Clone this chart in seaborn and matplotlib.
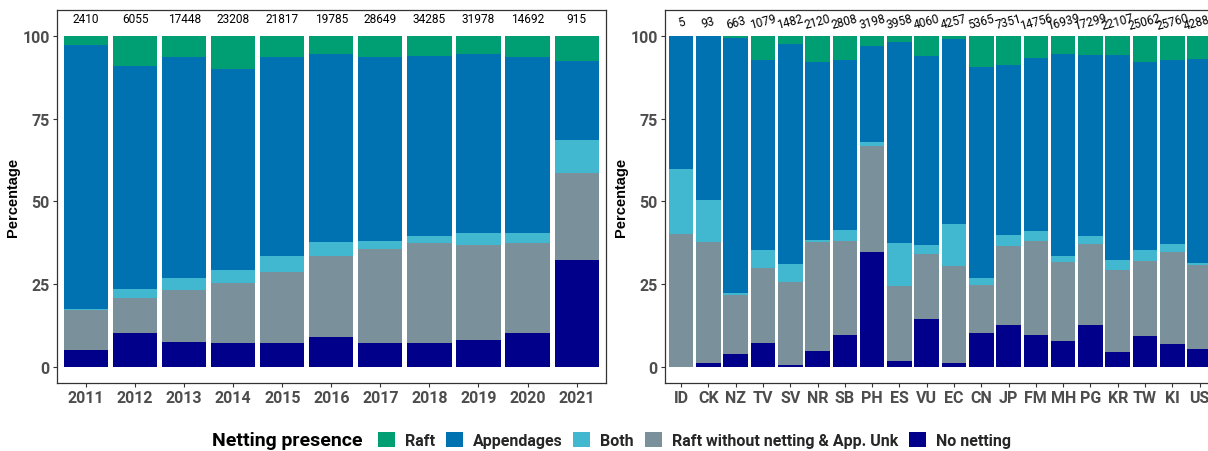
import numpy as np
import pandas as pd
import matplotlib
matplotlib.use("Agg")
import matplotlib.pyplot as plt
import seaborn as sns
from matplotlib.patches import Patch
from matplotlib import font_manager

sns.set_theme(style="white")

names = {f.name for f in font_manager.fontManager.ttflist}
NARROW = "Liberation Sans Narrow" if "Liberation Sans Narrow" in names else "Roboto"
SANS = "Liberation Sans"
plt.rcParams['font.family'] = [SANS, 'DejaVu Sans']

# ---------------- data ----------------
years = ["2011", "2012", "2013", "2014", "2015", "2016", "2017", "2018", "2019", "2020", "2021"]
year_counts = [2410, 6055, 17448, 23208, 21817, 19785, 28649, 34285, 31978, 14692, 915]
year_no_netting = [5.1, 10.3, 7.6, 7.3, 7.3, 9.1, 7.3, 7.3, 8.2, 10.3, 32.3]
year_raft_wo = [12.2, 10.5, 15.7, 18.1, 21.4, 24.4, 28.3, 30.2, 28.7, 27.2, 26.4]
year_both = [0.3, 2.8, 3.6, 3.9, 4.8, 4.3, 2.5, 2.1, 3.6, 3.0, 10.0]
year_appendages = [79.7, 67.3, 66.7, 60.7, 60.1, 56.7, 55.5, 54.3, 54.0, 53.1, 23.7]
year_raft = [2.7, 9.1, 6.4, 10.0, 6.4, 5.5, 6.4, 6.1, 5.5, 6.4, 7.6]

flags = ["ID", "CK", "NZ", "TV", "SV", "NR", "SB", "PH", "ES", "VU",
         "EC", "CN", "JP", "FM", "MH", "PG", "KR", "TW", "KI", "US"]
flag_counts = [5, 93, 663, 1079, 1482, 2120, 2808, 3198, 3958, 4060,
               4257, 5365, 7351, 14756, 16939, 17299, 22107, 25062, 25760, 42889]
flag_no_netting = [0.0, 1.2, 3.9, 7.3, 0.6, 4.8, 9.7, 34.7, 1.8, 14.5,
                   1.2, 10.3, 12.7, 9.7, 7.9, 12.7, 4.5, 9.4, 6.9, 5.4]
flag_raft_wo = [40.2, 36.6, 17.9, 22.6, 25.1, 33.0, 28.4, 31.9, 22.7, 19.6,
                29.3, 14.5, 23.9, 28.4, 23.8, 24.5, 24.8, 22.6, 27.8, 25.4]
flag_both = [19.7, 12.7, 0.6, 5.4, 5.4, 0.6, 3.3, 1.2, 13.0, 2.8,
             12.7, 2.1, 3.3, 3.0, 1.8, 2.4, 3.0, 3.3, 2.5, 0.6]
flag_appendages = [40.1, 49.5, 77.0, 57.4, 66.5, 53.7, 51.3, 29.2, 60.7, 57.0,
                   55.9, 63.7, 51.3, 52.2, 61.0, 54.6, 61.9, 56.8, 55.5, 61.6]
flag_raft = [0.0, 0.0, 0.6, 7.3, 2.4, 7.9, 7.3, 3.0, 1.8, 6.1,
             0.9, 9.4, 8.8, 6.7, 5.5, 5.8, 5.8, 7.9, 7.3, 7.0]

categories = ["Raft", "Appendages", "Both", "Raft without netting & App. Unk", "No netting"]
colors = {"Raft": "#009E73", "Appendages": "#0072B2", "Both": "#41B7D0",
          "Raft without netting & App. Unk": "#7A909B", "No netting": "#00008B"}

W, H = 1208, 452
fig = plt.figure(figsize=(W / 100, H / 100), dpi=100)
fig.patch.set_facecolor("white")

def px_axes(x0, x1, y0, y1):
    return fig.add_axes([x0 / W, 1 - y1 / H, (x1 - x0) / W, (y1 - y0) / H])

ax1 = px_axes(56.7, 606.0, 10.7, 383.7)
ax2 = px_axes(664.7, 1216.0, 10.7, 383.7)

def draw(ax, cats, counts, series, rot):
    df = pd.DataFrame({"cat": cats})
    # stack order bottom->top: No netting, Raft w/o, Both, Appendages, Raft
    order_bottom = ["No netting", "Raft without netting & App. Unk", "Both", "Appendages", "Raft"]
    cum = np.zeros(len(cats))
    cums = {}
    for k in order_bottom:
        cum = cum + np.array(series[k])
        cums[k] = cum.copy()
    for k in ["Raft", "Appendages", "Both", "Raft without netting & App. Unk", "No netting"]:
        df["v"] = cums[k]
        sns.barplot(data=df, x="cat", y="v", order=cats, color=colors[k],
                    width=0.9, saturation=1, ax=ax, errorbar=None, linewidth=0)
    n = len(cats)
    ax.set_xlim(-0.6, n - 1 + 0.6)
    ax.set_ylim(-4.74, 107.9)
    for i, c in enumerate(counts):
        if rot:
            ax.text(i, 104.3, str(c), rotation=15, ha="center", va="center",
                    fontsize=8.6, family=NARROW, color="black",
                    rotation_mode="anchor")
        else:
            ax.text(i, 105.3, str(c), ha="center", va="center",
                    fontsize=8.6, family=NARROW, color="black")
    ax.set_yticks([0, 25, 50, 75, 100])
    ax.set_xlabel("")
    ax.set_ylabel("Percentage", fontsize=10.5, fontweight="bold", color="black",
                  family=SANS, labelpad=2)
    for lab in ax.get_xticklabels() + ax.get_yticklabels():
        lab.set_family(NARROW)
        lab.set_fontweight("bold")
        lab.set_fontsize(11.5)
        lab.set_color("#4D4D4D")
    ax.tick_params(axis="both", length=3, width=0.8, color="#333333", pad=2,
                   bottom=True, left=True)
    for s in ax.spines.values():
        s.set_color("#333333")
        s.set_linewidth(0.9)
    ax.grid(False)

draw(ax1, years, year_counts,
     {"Raft": year_raft, "Appendages": year_appendages, "Both": year_both,
      "Raft without netting & App. Unk": year_raft_wo, "No netting": year_no_netting}, False)
draw(ax2, flags, flag_counts,
     {"Raft": flag_raft, "Appendages": flag_appendages, "Both": flag_both,
      "Raft without netting & App. Unk": flag_raft_wo, "No netting": flag_no_netting}, True)

# legend
fig.text(212 / W, 1 - 441 / H, "Netting presence", ha="left", va="center",
         fontsize=14, fontweight="bold", family=NARROW, color="black")
handles = [Patch(facecolor=colors[k], edgecolor="none", label=k) for k in categories]
leg = fig.legend(handles=handles, loc="center left", bbox_to_anchor=(378 / W, 1 - 441 / H),
                 ncol=5, frameon=False, handlelength=1.06, handleheight=1.06,
                 handletextpad=0.62, columnspacing=0.69, borderaxespad=0, borderpad=0,
                 prop={"family": NARROW, "weight": "bold", "size": 11.5})

fig.savefig("out.png", dpi=100, facecolor="white")
